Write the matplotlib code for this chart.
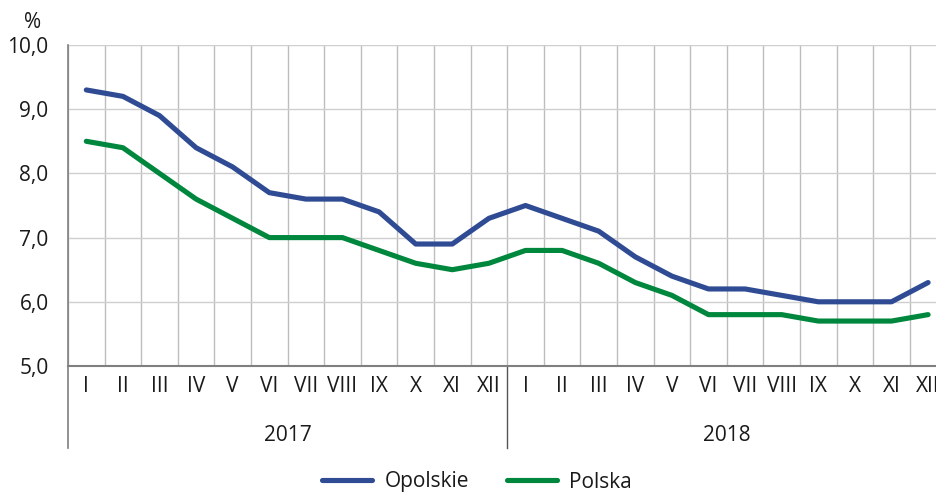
import matplotlib
matplotlib.use("Agg")
import matplotlib.pyplot as plt
import numpy as np
from matplotlib.lines import Line2D

months = ["I", "II", "III", "IV", "V", "VI", "VII", "VIII", "IX", "X", "XI", "XII"]
years = ["2017", "2018"]
opolskie = [9.3, 9.2, 8.9, 8.4, 8.1, 7.7, 7.6, 7.6, 7.4, 6.9, 6.9, 7.3,
            7.5, 7.3, 7.1, 6.7, 6.4, 6.2, 6.2, 6.1, 6.0, 6.0, 6.0, 6.3]
polska = [8.5, 8.4, 8.0, 7.6, 7.3, 7.0, 7.0, 7.0, 6.8, 6.6, 6.5, 6.6,
          6.8, 6.8, 6.6, 6.3, 6.1, 5.8, 5.8, 5.8, 5.7, 5.7, 5.7, 5.8]
yticks = [5.0, 6.0, 7.0, 8.0, 9.0, 10.0]

plt.rcParams['font.family'] = ['Open Sans', 'DejaVu Sans']
FS = 15

W, H = 936, 492
fig = plt.figure(figsize=(W / 100, H / 100), dpi=100)
n = len(opolskie)
left = 68 / W
right = (68 + n * 36.6) / W
bottom = 1 - 366 / H
top = 1 - 45 / H
ax = fig.add_axes([left, bottom, right - left, top - bottom])

x = np.arange(n)
blue = "#2F4B93"
green = "#00873E"
ax.plot(x, opolskie, color=blue, lw=3.7, solid_capstyle="round", solid_joinstyle="round", label="Opolskie", zorder=3)
ax.plot(x, polska, color=green, lw=3.7, solid_capstyle="round", solid_joinstyle="round", label="Polska", zorder=3)

ax.set_xlim(-0.5, n - 0.5)
ax.set_ylim(5.0, 10.0)
ax.set_yticks(yticks)
ax.set_yticklabels([f"{v:.1f}".replace(".", ",") for v in yticks], fontsize=FS, color="#1a1a1a")
ax.tick_params(axis="y", length=0, pad=14)

labels = [m for _ in years for m in months]
ax.set_xticks(x)
ax.set_xticklabels(labels, fontsize=FS, color="#1a1a1a")
ax.tick_params(axis="x", length=0, pad=7)
ax.set_xticks(np.arange(-0.5, n, 1.0), minor=True)
ax.tick_params(axis="x", which="minor", length=0)

ax.grid(True, which="minor", axis="x", color="#bdbdbd", lw=1)
ax.grid(True, which="major", axis="y", color="#cfcfcf", lw=1)
ax.grid(False, which="major", axis="x")
ax.set_axisbelow(True)

for s in ["top", "right"]:
    ax.spines[s].set_visible(False)
ax.spines["bottom"].set_color("#7f7f7f")
ax.spines["bottom"].set_linewidth(1.5)
ax.spines["left"].set_color("#7f7f7f")
ax.spines["left"].set_linewidth(1.2)

trans = ax.get_xaxis_transform()
ax.add_line(Line2D([-0.5, -0.5], [0, -0.255], transform=trans, color="#7f7f7f", lw=1.2, clip_on=False))
ax.add_line(Line2D([11.5, 11.5], [0, -0.255], transform=trans, color="#555555", lw=1.0, clip_on=False))

for i, yr in enumerate(years):
    ax.text(i * 12 + 5.5, -0.215, yr, transform=trans, ha="center", va="center", fontsize=FS, color="#1a1a1a")

fig.text(33 / W, 1 - 22 / H, "%", ha="center", va="center", fontsize=FS, color="#1a1a1a")

leg = fig.legend(loc="center", bbox_to_anchor=(477 / W, 1 - 482 / H), ncol=2, frameon=False,
                 fontsize=FS, handlelength=2.4, columnspacing=1.8, handletextpad=0.6)
for t in leg.get_texts():
    t.set_color("#1a1a1a")

fig.savefig("out.png", dpi=100)
